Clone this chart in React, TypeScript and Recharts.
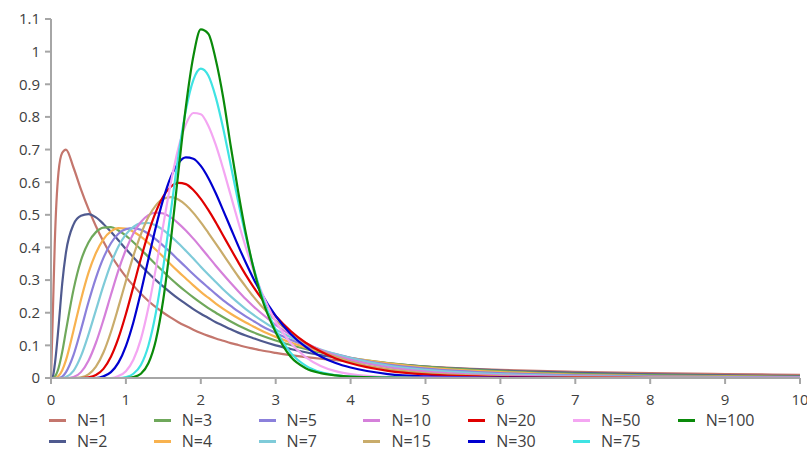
import { LineChart, Line, XAxis, YAxis, Legend } from 'recharts';

const X = [0, 0.025, 0.05, 0.1, 0.15, 0.2, 0.3, 0.4, 0.5, 0.6, 0.7, 0.8, 0.9, 1.0, 1.1, 1.2, 1.3, 1.4, 1.5, 1.6, 1.7, 1.8, 1.9, 2.0, 2.1, 2.2, 2.3, 2.4, 2.5, 2.6, 2.7, 2.8, 3.0, 3.2, 3.4, 3.6, 3.8, 4.0, 4.5, 5, 6, 7, 8, 9, 10];

const N1 = [0, 0.2, 0.41, 0.63, 0.69, 0.7, 0.645, 0.578, 0.518, 0.465, 0.418, 0.377, 0.341, 0.31, 0.283, 0.258, 0.236, 0.217, 0.2, 0.185, 0.171, 0.159, 0.148, 0.138, 0.129, 0.121, 0.114, 0.107, 0.101, 0.095, 0.09, 0.085, 0.077, 0.07, 0.064, 0.059, 0.055, 0.051, 0.042, 0.035, 0.025, 0.019, 0.015, 0.012, 0.01];
const N2 = [0, 0.005, 0.04, 0.155, 0.29, 0.385, 0.47, 0.497, 0.502, 0.492, 0.472, 0.448, 0.422, 0.395, 0.37, 0.345, 0.322, 0.3, 0.28, 0.261, 0.243, 0.227, 0.211, 0.197, 0.184, 0.171, 0.16, 0.149, 0.139, 0.13, 0.122, 0.114, 0.1, 0.089, 0.079, 0.07, 0.063, 0.057, 0.045, 0.035, 0.023, 0.016, 0.011, 0.008, 0.006];
const N3 = [0, 0, 0.004, 0.03, 0.08, 0.145, 0.27, 0.36, 0.415, 0.447, 0.461, 0.462, 0.452, 0.436, 0.416, 0.394, 0.371, 0.348, 0.326, 0.304, 0.284, 0.265, 0.247, 0.23, 0.214, 0.2, 0.186, 0.173, 0.161, 0.15, 0.14, 0.131, 0.115, 0.101, 0.089, 0.078, 0.069, 0.061, 0.046, 0.035, 0.021, 0.013, 0.009, 0.006, 0.004];
const N4 = [0, 0, 0, 0.006, 0.024, 0.055, 0.145, 0.24, 0.322, 0.383, 0.425, 0.449, 0.459, 0.458, 0.448, 0.433, 0.414, 0.393, 0.371, 0.348, 0.326, 0.305, 0.284, 0.264, 0.246, 0.228, 0.212, 0.197, 0.183, 0.17, 0.158, 0.146, 0.126, 0.109, 0.094, 0.082, 0.071, 0.062, 0.045, 0.032, 0.018, 0.01, 0.006, 0.004, 0.003];
const N5 = [0, 0, 0, 0, 0.004, 0.018, 0.07, 0.148, 0.232, 0.307, 0.368, 0.413, 0.442, 0.456, 0.459, 0.454, 0.442, 0.425, 0.405, 0.384, 0.362, 0.34, 0.318, 0.297, 0.277, 0.257, 0.238, 0.221, 0.204, 0.189, 0.175, 0.161, 0.138, 0.117, 0.1, 0.085, 0.073, 0.062, 0.041, 0.029, 0.015, 0.008, 0.005, 0.003, 0.002];
const N7 = [0, 0, 0, 0, 0, 0.003, 0.022, 0.067, 0.133, 0.208, 0.283, 0.35, 0.403, 0.44, 0.463, 0.474, 0.475, 0.467, 0.453, 0.434, 0.413, 0.39, 0.366, 0.341, 0.317, 0.294, 0.271, 0.25, 0.23, 0.211, 0.194, 0.178, 0.149, 0.125, 0.104, 0.087, 0.073, 0.061, 0.038, 0.025, 0.012, 0.006, 0.003, 0.002, 0.001];
const N10 = [0, 0, 0, 0, 0, 0, 0.003, 0.018, 0.053, 0.108, 0.178, 0.255, 0.33, 0.393, 0.443, 0.478, 0.499, 0.507, 0.504, 0.492, 0.474, 0.452, 0.427, 0.4, 0.372, 0.344, 0.317, 0.291, 0.266, 0.242, 0.22, 0.2, 0.163, 0.132, 0.107, 0.086, 0.069, 0.056, 0.033, 0.02, 0.008, 0.004, 0.002, 0.001, 0.001];
const N15 = [0, 0, 0, 0, 0, 0, 0, 0.002, 0.011, 0.035, 0.078, 0.141, 0.217, 0.297, 0.374, 0.44, 0.493, 0.529, 0.549, 0.554, 0.547, 0.53, 0.506, 0.477, 0.445, 0.412, 0.378, 0.344, 0.311, 0.28, 0.25, 0.223, 0.176, 0.138, 0.107, 0.083, 0.065, 0.05, 0.027, 0.015, 0.005, 0.002, 0.001, 0, 0];
const N20 = [0, 0, 0, 0, 0, 0, 0, 0, 0.002, 0.009, 0.028, 0.065, 0.122, 0.196, 0.28, 0.366, 0.444, 0.509, 0.557, 0.586, 0.598, 0.594, 0.576, 0.549, 0.515, 0.477, 0.436, 0.395, 0.355, 0.316, 0.28, 0.247, 0.19, 0.144, 0.108, 0.081, 0.06, 0.045, 0.022, 0.011, 0.003, 0.001, 0, 0, 0];
const N30 = [0, 0, 0, 0, 0, 0, 0, 0, 0, 0, 0.005, 0.018, 0.047, 0.098, 0.171, 0.263, 0.364, 0.463, 0.549, 0.616, 0.658, 0.676, 0.672, 0.65, 0.613, 0.566, 0.513, 0.459, 0.405, 0.354, 0.306, 0.263, 0.19, 0.135, 0.095, 0.066, 0.046, 0.032, 0.012, 0.005, 0.001, 0, 0, 0, 0];
const N50 = [0, 0, 0, 0, 0, 0, 0, 0, 0, 0, 0, 0, 0.006, 0.021, 0.056, 0.119, 0.215, 0.336, 0.47, 0.598, 0.704, 0.777, 0.812, 0.808, 0.773, 0.714, 0.64, 0.559, 0.478, 0.401, 0.331, 0.27, 0.173, 0.107, 0.064, 0.037, 0.021, 0.012, 0.003, 0.001, 0, 0, 0, 0, 0];
const N75 = [0, 0, 0, 0, 0, 0, 0, 0, 0, 0, 0, 0, 0, 0.003, 0.013, 0.04, 0.099, 0.2, 0.342, 0.511, 0.679, 0.82, 0.913, 0.948, 0.927, 0.86, 0.764, 0.652, 0.54, 0.435, 0.342, 0.264, 0.148, 0.077, 0.038, 0.018, 0.009, 0.004, 0.001, 0, 0, 0, 0, 0, 0];
const N100 = [0, 0, 0, 0, 0, 0, 0, 0, 0, 0, 0, 0, 0, 0, 0.003, 0.013, 0.045, 0.116, 0.242, 0.421, 0.63, 0.83, 0.985, 1.068, 1.055, 0.975, 0.858, 0.71, 0.57, 0.445, 0.34, 0.255, 0.14, 0.065, 0.03, 0.015, 0.008, 0.004, 0.001, 0, 0, 0, 0, 0, 0];

const X_TICKS = [0, 1, 2, 3, 4, 5, 6, 7, 8, 9, 10];
const Y_TICKS = [0, 0.1, 0.2, 0.3, 0.4, 0.5, 0.6, 0.7, 0.8, 0.9, 1, 1.1];

const SERIES = [
  { key: 'n1', name: 'N=1', values: N1, color: '#C4766D' },
  { key: 'n2', name: 'N=2', values: N2, color: '#4F5A8F' },
  { key: 'n3', name: 'N=3', values: N3, color: '#6FA85B' },
  { key: 'n4', name: 'N=4', values: N4, color: '#F8B24F' },
  { key: 'n5', name: 'N=5', values: N5, color: '#8B80DB' },
  { key: 'n7', name: 'N=7', values: N7, color: '#7FCBD9' },
  { key: 'n10', name: 'N=10', values: N10, color: '#D580DA' },
  { key: 'n15', name: 'N=15', values: N15, color: '#C9AC6B' },
  { key: 'n20', name: 'N=20', values: N20, color: '#E00000' },
  { key: 'n30', name: 'N=30', values: N30, color: '#0000D0' },
  { key: 'n50', name: 'N=50', values: N50, color: '#F4A6F2' },
  { key: 'n75', name: 'N=75', values: N75, color: '#3FE3E3' },
  { key: 'n100', name: 'N=100', values: N100, color: '#0A8A0A' },
];

const rows = X.map((x, i) => {
  const row: Record<string, number> = { x };
  SERIES.forEach((s) => {
    row[s.key] = s.values[i];
  });
  return row;
});

const FONT = "'Open Sans', sans-serif";
const AXIS = '#A6A6A6';

function LegendGrid() {
  return (
    <div style={{ position: 'relative', width: 807, height: 36, fontFamily: FONT }}>
      {SERIES.map((s, i) => {
        const col = Math.floor(i / 2);
        const row = i % 2;
        return (
          <div
            key={s.key}
            style={{
              position: 'absolute',
              left: 49 + col * 104.8,
              top: row * 21,
              height: 16,
              display: 'flex',
              alignItems: 'center',
              whiteSpace: 'nowrap',
            }}
          >
            <span style={{ display: 'inline-block', width: 17, height: 3, background: s.color }} />
            <span style={{ marginLeft: 11, fontSize: 16, lineHeight: '16px', color: '#404040' }}>{s.name}</span>
          </div>
        );
      })}
    </div>
  );
}

export default function App() {
  return (
    <div style={{ position: 'absolute', left: 0, top: 0, width: 807, height: 454, background: '#FFFFFF' }}>
      <LineChart width={807} height={454} data={rows} margin={{ top: 19, right: 7, bottom: 46, left: 0 }}>
        <XAxis
          dataKey="x"
          type="number"
          domain={[0, 10]}
          ticks={X_TICKS}
          interval={0}
          height={30}
          stroke={AXIS}
          strokeWidth={2}
          tickSize={6}
          tickMargin={10}
          tick={{ fill: '#404040', fontSize: 15, fontFamily: FONT }}
        />
        <YAxis
          type="number"
          domain={[0, 1.1]}
          ticks={Y_TICKS}
          interval={0}
          width={51}
          stroke={AXIS}
          strokeWidth={2}
          tickSize={6}
          tickMargin={5}
          allowDataOverflow
          tickFormatter={(v: number) => String(Math.round(v * 10) / 10)}
          tick={{ fill: '#404040', fontSize: 15, fontFamily: FONT }}
        />
        <Legend
          layout="horizontal"
          verticalAlign="middle"
          align="center"
          wrapperStyle={{ position: 'absolute', top: 412, left: 0, width: 807 }}
          content={() => <LegendGrid />}
        />
        {SERIES.map((s) => (
          <Line
            key={s.key}
            dataKey={s.key}
            name={s.name}
            type="monotone"
            stroke={s.color}
            strokeWidth={2.2}
            dot={false}
            activeDot={false}
            isAnimationActive={false}
          />
        ))}
      </LineChart>
    </div>
  );
}
